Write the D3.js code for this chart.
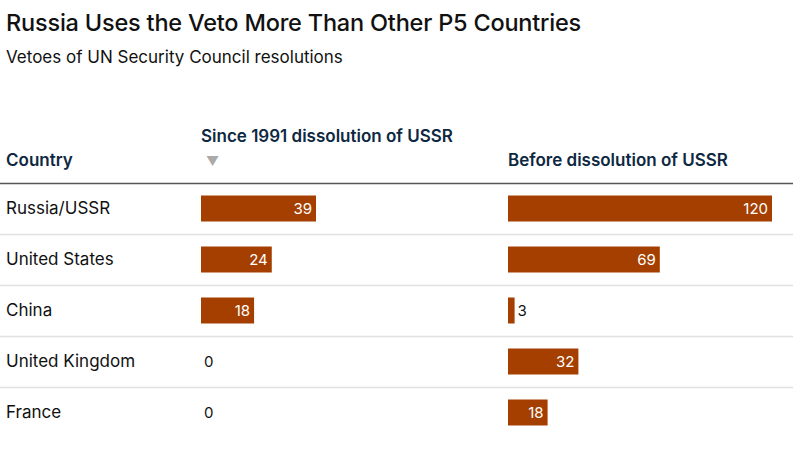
<!DOCTYPE html>
<html>

<head>
    <meta charset="UTF-8">
    <style>
        body {
            margin: 0;
            background: #fff;
            font-family: Inter, "Noto Sans", sans-serif;
        }
    </style>
</head>

<body>
    <div id="chart"></div>

    <script src="https://d3js.org/d3.v7.min.js"></script>
    <script>

        // Data
        const countries = ["Russia/USSR", "United States", "China", "United Kingdom", "France"];
        const since1991 = [39, 24, 18, 0, 0];
        const before1991 = [120, 69, 3, 32, 18];
        const colNames = ["Since 1991 dissolution of USSR", "Before dissolution of USSR"];

        const width = 800, height = 458;
        const barColor = "#a43f00";
        const headColor = "#0e2841";

        const svg = d3.select("#chart")
            .append("svg")
            .attr("width", width)
            .attr("height", height);

        // Title + subtitle
        svg.append("text")
            .attr("x", 6).attr("y", 31)
            .style("font-size", "23.5px")
            .style("font-weight", 500)
            .style("letter-spacing", "-0.2px")
            .style("fill", "#111")
            .text("Russia Uses the Veto More Than Other P5 Countries");

        svg.append("text")
            .attr("x", 6).attr("y", 63)
            .style("font-size", "17px")
            .style("fill", "#111")
            .text("Vetoes of UN Security Council resolutions");

        // Headers
        svg.append("text")
            .attr("x", 6).attr("y", 166)
            .style("font-size", "17px").style("font-weight", 600)
            .style("fill", headColor)
            .text("Country");

        svg.append("text")
            .attr("x", 201).attr("y", 142)
            .style("font-size", "17px").style("font-weight", 600)
            .style("fill", headColor)
            .text(colNames[0]);

        svg.append("text")
            .attr("x", 206).attr("y", 166)
            .style("font-size", "13px")
            .style("fill", "#aaa")
            .text("▼");

        svg.append("text")
            .attr("x", 508).attr("y", 166)
            .style("font-size", "17px").style("font-weight", 600)
            .style("fill", headColor)
            .text(colNames[1]);

        // Row scale
        const y = d3.scaleBand()
            .domain(countries)
            .range([183, 438]);

        // Bar scales, one per column
        const x1 = d3.scaleLinear().domain([0, d3.max(since1991)]).range([0, 115]);
        const x2 = d3.scaleLinear().domain([0, d3.max(before1991)]).range([0, 264]);

        // Header rule
        svg.append("line")
            .attr("x1", 0).attr("x2", 793)
            .attr("y1", 183.5).attr("y2", 183.5)
            .style("stroke", "#555").style("stroke-width", 1.5);

        // Row separators
        svg.selectAll(".sep")
            .data(countries.slice(1))
            .enter()
            .append("line")
            .attr("x1", 0).attr("x2", 793)
            .attr("y1", d => y(d) + 0.5)
            .attr("y2", d => y(d) + 0.5)
            .style("stroke", "#e0e0e0").style("stroke-width", 1.5);

        // Country names
        svg.selectAll(".name")
            .data(countries)
            .enter()
            .append("text")
            .attr("x", 6)
            .attr("y", d => y(d) + y.bandwidth() / 2)
            .attr("dy", "0.35em")
            .style("font-size", "17px")
            .style("fill", "#111")
            .text(d => d);

        const barH = 26;

        function drawColumn(values, x, x0) {
            const g = svg.append("g").attr("transform", `translate(${x0},0)`);
            const rows = values.map((v, i) => ({ name: countries[i], value: v }));

            g.selectAll("rect")
                .data(rows.filter(d => d.value > 0))
                .enter()
                .append("rect")
                .attr("x", 0)
                .attr("y", d => y(d.name) + y.bandwidth() / 2 - barH / 2)
                .attr("width", d => x(d.value))
                .attr("height", barH)
                .style("fill", barColor);

            g.selectAll("text")
                .data(rows)
                .enter()
                .append("text")
                .attr("y", d => y(d.name) + y.bandwidth() / 2)
                .attr("dy", "0.36em")
                .attr("x", d => x(d.value) > 30 ? x(d.value) - 4 : x(d.value) + 3)
                .attr("text-anchor", d => x(d.value) > 30 ? "end" : "start")
                .style("font-size", "15px")
                .style("fill", d => x(d.value) > 30 ? "#fff" : "#111")
                .text(d => d.value);
        }

        drawColumn(since1991, x1, 201);
        drawColumn(before1991, x2, 508);

    </script>
</body>

</html>
